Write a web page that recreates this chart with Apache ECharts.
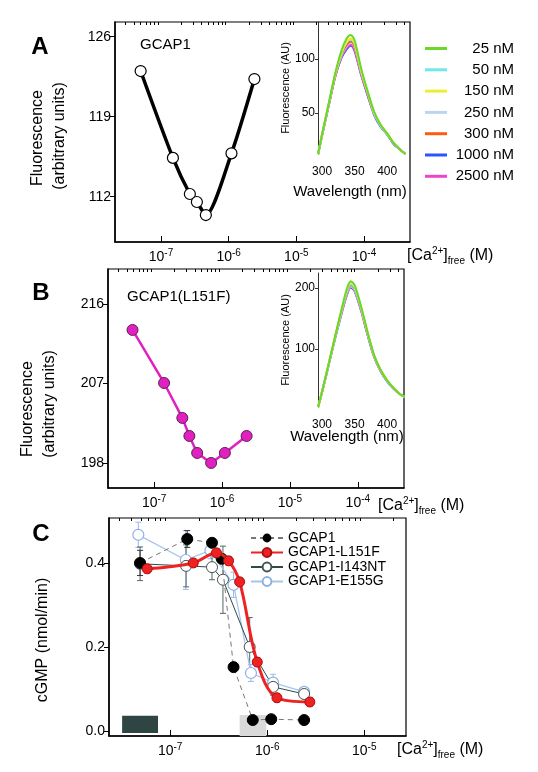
<!DOCTYPE html>
<html><head><meta charset="utf-8">
<script src="https://cdn.jsdelivr.net/npm/echarts@6/dist/echarts.min.js"></script>
<style>html,body{margin:0;padding:0;background:#fff}#c{width:538px;height:772px}</style>
</head><body><div id="c"></div>
<script>
// ---------------- DATA ----------------
const wavelengths = [294, 300, 310, 320, 330, 338, 344, 350, 360, 370, 380, 390, 400, 410, 420, 428];
const concLabels = ['25 nM', '50 nM', '150 nM', '250 nM', '300 nM', '1000 nM', '2500 nM'];
// Panel A inset spectra (Fluorescence, AU)
const specA_25   = [12, 30, 58, 86, 108, 119, 122, 117, 91, 70, 51, 39, 31, 22, 16, 12];
const specA_50   = [12, 30, 57, 85, 105, 115, 118, 113, 89, 69, 50, 38, 30, 22, 16, 12];
const specA_150  = [12, 30, 58, 85, 106, 116, 119, 114, 89, 69, 50, 39, 31, 22, 16, 12];
const specA_250  = [12, 30, 57, 84, 103, 112, 115, 110, 87, 68, 49, 38, 30, 22, 16, 12];
const specA_300  = [12, 30, 57, 84, 104, 113, 116, 111, 88, 68, 50, 38, 30, 22, 16, 12];
const specA_1000 = [12, 29, 56, 83, 101, 109, 112, 107, 85, 66, 48, 37, 30, 21, 16, 12];
const specA_2500 = [12, 29, 56, 83, 102, 110, 113, 108, 86, 67, 49, 38, 30, 22, 16, 12];
// Panel B inset spectra
const specB_25   = [5, 30, 75, 120, 165, 198, 211, 205, 170, 128, 90, 66, 49, 36, 26, 21];
const specB_50   = [5, 30, 74, 119, 162, 193, 206, 200, 167, 126, 89, 65, 48, 36, 26, 21];
const specB_150  = [5, 30, 75, 120, 164, 196, 209, 203, 169, 127, 90, 66, 49, 36, 26, 21];
const specB_250  = [5, 29, 74, 118, 160, 190, 203, 197, 165, 125, 88, 65, 48, 35, 26, 21];
const specB_300  = [5, 30, 74, 119, 161, 192, 205, 199, 166, 125, 89, 65, 48, 36, 26, 21];
const specB_1000 = [5, 29, 73, 117, 158, 188, 201, 195, 163, 123, 87, 64, 47, 35, 26, 21];
const specB_2500 = [5, 29, 73, 118, 159, 189, 202, 196, 164, 124, 88, 64, 48, 35, 26, 21];

// Panel A main: GCAP1 fluorescence vs [Ca2+]free (M)
const caA   = [5.0e-8, 1.5e-7, 2.67e-7, 3.39e-7, 4.6e-7, 1.1e-6, 2.4e-6];
const fluoA = [123.0, 115.4, 112.24, 111.54, 110.4, 115.8, 122.3];
// Panel B main: GCAP1(L151F)
const caB   = [4.8e-8, 1.4e-7, 2.6e-7, 3.3e-7, 4.3e-7, 6.9e-7, 1.1e-6, 2.3e-6];
const fluoB = [213.06, 207.07, 203.12, 201.08, 199.16, 198.03, 199.16, 201.08];

// Panel C: cGMP (nmol/min)
const caC_wt    = [4.9e-8, 1.5e-7, 2.7e-7, 3.4e-7, 4.5e-7, 7.1e-7, 1.1e-6, 2.4e-6];
const cgmp_wt   = [0.40, 0.457, 0.448, 0.41, 0.152, 0.026, 0.028, 0.026];
const err_wt    = [0.03, 0.02, 0.01, 0.01, 0.01, 0.005, 0.005, 0.005];
const caC_L151F  = [5.8e-8, 1.73e-7, 3.0e-7, 4.0e-7, 5.2e-7, 7.9e-7, 1.26e-6, 2.75e-6];
const cgmp_L151F = [0.386, 0.40, 0.424, 0.405, 0.355, 0.164, 0.079, 0.069];
const err_L151F  = [0.01, 0.01, 0.01, 0.01, 0.01, 0.01, 0.01, 0.01];
const caC_I143NT  = [4.9e-8, 1.46e-7, 2.7e-7, 3.5e-7, 6.6e-7, 1.15e-6, 2.4e-6];
const cgmp_I143NT = [0.398, 0.393, 0.39, 0.36, 0.20, 0.105, 0.088];
const err_I143NT  = [0.04, 0.05, 0.03, 0.08, 0.07, 0.02, 0.01];
const caC_E155G  = [4.7e-8, 1.45e-7, 2.6e-7, 4.5e-7, 6.8e-7, 1.15e-6, 2.4e-6];
const cgmp_E155G = [0.467, 0.407, 0.43, 0.348, 0.138, 0.115, 0.093];
const err_E155G  = [0.03, 0.07, 0.02, 0.03, 0.02, 0.02, 0.01];
// shaded bands in C ([Ca2+] range, cGMP range)
const darkBandX = [3.2e-8, 7.5e-8], darkBandY = [-0.005, 0.036];
const grayBandX = [5.2e-7, 9.8e-7], grayBandY = [-0.012, 0.038];

// tick labels
const logMajor = [-7, -6, -5, -4];
const yTicksA = [112, 119, 126];
const yTicksB = [198, 207, 216];
const yTicksC = [0, 0.2, 0.4];
const insetXTicks = [300, 350, 400];
const insetYTicksA = [50, 100];
const insetYTicksB = [100, 200];

// ---------------- BUILD ----------------
const FONT = 'Liberation Sans, Arial, Helvetica, sans-serif';
const specColors = {'25 nM':'#6ad82a','50 nM':'#6ee8e8','150 nM':'#eeee30','250 nM':'#bcd4f2','300 nM':'#ff5a10','1000 nM':'#2a55ff','2500 nM':'#ee44cc'};
const specA = {'25 nM':specA_25,'50 nM':specA_50,'150 nM':specA_150,'250 nM':specA_250,'300 nM':specA_300,'1000 nM':specA_1000,'2500 nM':specA_2500};
const specB = {'25 nM':specB_25,'50 nM':specB_50,'150 nM':specB_150,'250 nM':specB_250,'300 nM':specB_300,'1000 nM':specB_1000,'2500 nM':specB_2500};
const drawOrder = ['1000 nM','2500 nM','250 nM','300 nM','50 nM','150 nM','25 nM'];

const minorTicks = [];
for (let n = -9; n <= -3; n++) for (let k = 2; k <= 9; k++) minorTicks.push(n + Math.log10(k));
const pairs = (xs, ys) => xs.map((x, i) => [Math.log10(x), ys[i]]);

function logAxes(grid, min, max) {
  return [{
    type: 'value', gridIndex: grid, min: min, max: max,
    axisLine: {show: true, onZero: false, lineStyle: {color: '#000', width: 1.5}},
    axisTick: {show: true, inside: true, length: 6, customValues: logMajor, lineStyle: {color: '#000'}},
    splitLine: {show: false},
    axisLabel: {customValues: logMajor, margin: 6, formatter: v => '{b|10}{s|' + Math.round(v) + '}',
      rich: {b: {fontSize: 14, fontFamily: FONT, color: '#000', lineHeight: 18},
             s: {fontSize: 10, fontFamily: FONT, color: '#000', verticalAlign: 'top', lineHeight: 10}}}
  }, {
    type: 'value', gridIndex: grid, min: min, max: max,
    axisLine: {show: false, onZero: false},
    axisTick: {show: true, inside: true, length: 3, customValues: minorTicks, lineStyle: {color: '#000'}},
    axisLabel: {show: false}, splitLine: {show: false}
  }];
}
function mainY(grid, min, max, ticks, fmt) {
  return {type: 'value', gridIndex: grid, min: min, max: max,
    axisLine: {show: true, onZero: false, lineStyle: {color: '#000', width: 1.5}},
    axisTick: {show: true, length: 5, customValues: ticks, lineStyle: {color: '#000'}},
    axisLabel: {customValues: ticks, margin: 4, fontSize: 14, fontFamily: FONT, color: '#000', formatter: fmt},
    splitLine: {show: false}};
}
function insetX(grid, max) {
  return {type: 'value', gridIndex: grid, min: 293.8, max: max,
    axisLine: {show: false}, axisTick: {show: false},
    axisLabel: {customValues: insetXTicks, margin: 12, fontSize: 12, fontFamily: FONT, color: '#000'},
    splitLine: {show: false}};
}
function insetY(grid, min, max, ticks) {
  return {type: 'value', gridIndex: grid, min: min, max: max,
    name: 'Fluorescence (AU)', nameLocation: 'middle', nameGap: 26, nameRotate: 90,
    nameTextStyle: {fontSize: 11, fontFamily: FONT, color: '#000'},
    axisLine: {show: true, onZero: false, lineStyle: {color: '#333', width: 1}},
    axisTick: {show: true, length: 3, customValues: ticks, lineStyle: {color: '#333'}},
    axisLabel: {customValues: ticks, margin: 3, fontSize: 12, fontFamily: FONT, color: '#000'},
    splitLine: {show: false}};
}

const xAxis = [].concat(
  logAxes(0, -7.68, -3.32),      // 0,1
  [insetX(1, 435)],              // 2
  logAxes(2, -7.68, -3.32),      // 3,4
  [insetX(3, 426)],              // 5
  logAxes(4, -7.63, -4.57)       // 6,7
);
const yAxis = [
  mainY(0, 108.04, 127.29, yTicksA),
  insetY(1, 12, 134, insetYTicksA),
  mainY(2, 195.2, 219.95, yTicksB),
  insetY(3, 5, 224.6, insetYTicksB),
  mainY(4, -0.012, 0.507, yTicksC, v => v.toFixed(1))
];

const series = [];
drawOrder.forEach(name => {
  series.push({type: 'line', name: name, xAxisIndex: 2, yAxisIndex: 1, symbol: 'none', smooth: 0.3,
    lineStyle: {width: 2, color: specColors[name]}, itemStyle: {color: specColors[name]},
    data: wavelengths.map((w, i) => [w, specA[name][i]])});
  series.push({type: 'line', name: name, xAxisIndex: 5, yAxisIndex: 3, symbol: 'none', smooth: 0.3,
    lineStyle: {width: 2, color: specColors[name]}, itemStyle: {color: specColors[name]},
    data: wavelengths.map((w, i) => [w, specB[name][i]])});
});
series.push({type: 'line', name: 'A main', xAxisIndex: 0, yAxisIndex: 0, smooth: 0.25,
  symbol: 'circle', symbolSize: 11, lineStyle: {color: '#000', width: 3.5},
  itemStyle: {color: '#fff', borderColor: '#000', borderWidth: 1.2}, data: pairs(caA, fluoA)});
series.push({type: 'line', name: 'B main', xAxisIndex: 3, yAxisIndex: 2,
  symbol: 'circle', symbolSize: 11, lineStyle: {color: '#e020c0', width: 2.5},
  itemStyle: {color: '#e020c0', borderColor: '#602050', borderWidth: 1}, data: pairs(caB, fluoB)});

function errSeries(name, xs, ys, es, color) {
  return {type: 'custom', name: name, xAxisIndex: 6, yAxisIndex: 4, z: 1,
    encode: {x: 0, y: 1},
    data: xs.map((x, i) => [Math.log10(x), ys[i], es[i]]),
    renderItem: (params, api) => {
      const x = api.value(0), y = api.value(1), e = api.value(2);
      const t = api.coord([x, y + e]), b = api.coord([x, y - e]);
      const w = 3, st = {stroke: color, lineWidth: 1};
      return {type: 'group', children: [
        {type: 'line', shape: {x1: t[0], y1: t[1], x2: b[0], y2: b[1]}, style: st},
        {type: 'line', shape: {x1: t[0] - w, y1: t[1], x2: t[0] + w, y2: t[1]}, style: st},
        {type: 'line', shape: {x1: b[0] - w, y1: b[1], x2: b[0] + w, y2: b[1]}, style: st}]};
    }};
}
series.push(errSeries('err E', caC_E155G, cgmp_E155G, err_E155G, '#9ab8e8'));
series.push(errSeries('err I', caC_I143NT, cgmp_I143NT, err_I143NT, '#556666'));
series.push(errSeries('err W', caC_wt, cgmp_wt, err_wt, '#333'));
series.push(errSeries('err L', caC_L151F, cgmp_L151F, err_L151F, '#e03030'));

series.push({type: 'line', name: 'GCAP1-E155G', xAxisIndex: 6, yAxisIndex: 4, z: 2,
  symbol: 'circle', symbolSize: 11, lineStyle: {color: '#a8c4ec', width: 1.3},
  itemStyle: {color: '#fff', borderColor: '#8fb0e4', borderWidth: 1.2}, data: pairs(caC_E155G, cgmp_E155G)});
series.push({type: 'line', name: 'GCAP1-I143NT', xAxisIndex: 6, yAxisIndex: 4, z: 2,
  symbol: 'circle', symbolSize: 11, lineStyle: {color: '#2f4a48', width: 1},
  itemStyle: {color: '#fff', borderColor: '#445555', borderWidth: 1}, data: pairs(caC_I143NT, cgmp_I143NT)});
series.push({type: 'line', name: 'GCAP1', xAxisIndex: 6, yAxisIndex: 4, z: 3,
  symbol: 'circle', symbolSize: 11, lineStyle: {color: '#777', width: 1, type: [5, 4]},
  itemStyle: {color: '#000', borderColor: '#000'}, data: pairs(caC_wt, cgmp_wt),
  markArea: {silent: true, data: [
    [{xAxis: Math.log10(darkBandX[0]), yAxis: darkBandY[0], itemStyle: {color: '#2e4544'}},
     {xAxis: Math.log10(darkBandX[1]), yAxis: darkBandY[1]}],
    [{xAxis: Math.log10(grayBandX[0]), yAxis: grayBandY[0], itemStyle: {color: '#d9d9d9'}},
     {xAxis: Math.log10(grayBandX[1]), yAxis: grayBandY[1]}]]}});
series.push({type: 'line', name: 'GCAP1-L151F', xAxisIndex: 6, yAxisIndex: 4, z: 4,
  symbol: 'circle', symbolSize: 10, smooth: 0.35, lineStyle: {color: '#ee2222', width: 3},
  itemStyle: {color: '#ee2222', borderColor: '#aa1010', borderWidth: 1}, data: pairs(caC_L151F, cgmp_L151F)});

function gText(text, x, y, size, opts) {
  return Object.assign({type: 'text', x: x, y: y, style: Object.assign({text: text, fontSize: size, fontFamily: FONT, fill: '#000',
    align: 'center', verticalAlign: 'middle'}, (opts && opts.style) || {})}, (opts && opts.el) || {});
}
const caRich = {n: {fontSize: 16, fontFamily: FONT, fill: '#000', lineHeight: 20},
  sup: {fontSize: 10, fontFamily: FONT, fill: '#000', verticalAlign: 'top', lineHeight: 10},
  sub: {fontSize: 10, fontFamily: FONT, fill: '#000', verticalAlign: 'bottom', lineHeight: 10}};
const caText = '{n|[Ca}{sup|2+}{n|]}{sub|free}{n| (M)}';
function caLabel(x, y) { return {type: 'text', x: x, y: y, style: {text: caText, rich: caRich, align: 'left', verticalAlign: 'middle'}}; }

const graphic = [
  gText('A', 40, 47, 24, {style: {fontWeight: 'bold'}}),
  gText('B', 41, 293, 24, {style: {fontWeight: 'bold'}}),
  gText('C', 41, 534, 24, {style: {fontWeight: 'bold'}}),
  gText('GCAP1', 140, 45, 15, {style: {align: 'left'}}),
  gText('GCAP1(L151F)', 127, 297, 15, {style: {align: 'left'}}),
  gText('Fluorescence', 38, 138, 16, {el: {rotation: Math.PI / 2}}),
  gText('(arbitrary units)', 60, 136, 16, {el: {rotation: Math.PI / 2}}),
  gText('Fluorescence', 28, 409, 16, {el: {rotation: Math.PI / 2}}),
  gText('(arbitrary units)', 50, 404, 16, {el: {rotation: Math.PI / 2}}),
  gText('cGMP (nmol/min)', 43, 640, 16, {el: {rotation: Math.PI / 2}}),
  gText('Wavelength (nm)', 350, 192, 15),
  gText('Wavelength (nm)', 347, 437, 15),
  caLabel(407, 256), caLabel(378, 506), caLabel(397, 750)
];

const option = {
  animation: false,
  backgroundColor: '#fff',
  textStyle: {fontFamily: FONT},
  grid: [
    {left: 115, top: 22, width: 295, height: 220, show: true, borderColor: '#000', borderWidth: 1.2},
    {left: 318, top: 22, width: 92, height: 132},
    {left: 108, top: 269, width: 296, height: 219, show: true, borderColor: '#000', borderWidth: 1.2},
    {left: 318, top: 273, width: 86, height: 134},
    {left: 109, top: 518, width: 297, height: 218, show: true, borderColor: '#000', borderWidth: 1.2}
  ],
  xAxis: xAxis, yAxis: yAxis, series: series, graphic: graphic,
  legend: [{
    data: concLabels, orient: 'vertical', left: 420, top: 36, itemWidth: 22, itemHeight: 3, itemGap: 6.3,
    icon: 'rect', selectedMode: false,
    formatter: n => '{r|' + n + '}',
    textStyle: {rich: {r: {width: 62, align: 'right', fontSize: 15, fontFamily: FONT, color: '#000', lineHeight: 14}}}
  }, {
    data: ['GCAP1', 'GCAP1-L151F', 'GCAP1-I143NT', 'GCAP1-E155G'], orient: 'vertical', left: 245, top: 526,
    itemWidth: 32, itemHeight: 11, itemGap: 0.5, selectedMode: false,
    textStyle: {fontSize: 14, fontFamily: FONT, color: '#000', lineHeight: 13}
  }]
};
const chart = echarts.init(document.getElementById('c'), null, {renderer: 'canvas'});
chart.setOption(option);
</script>
</body></html>
